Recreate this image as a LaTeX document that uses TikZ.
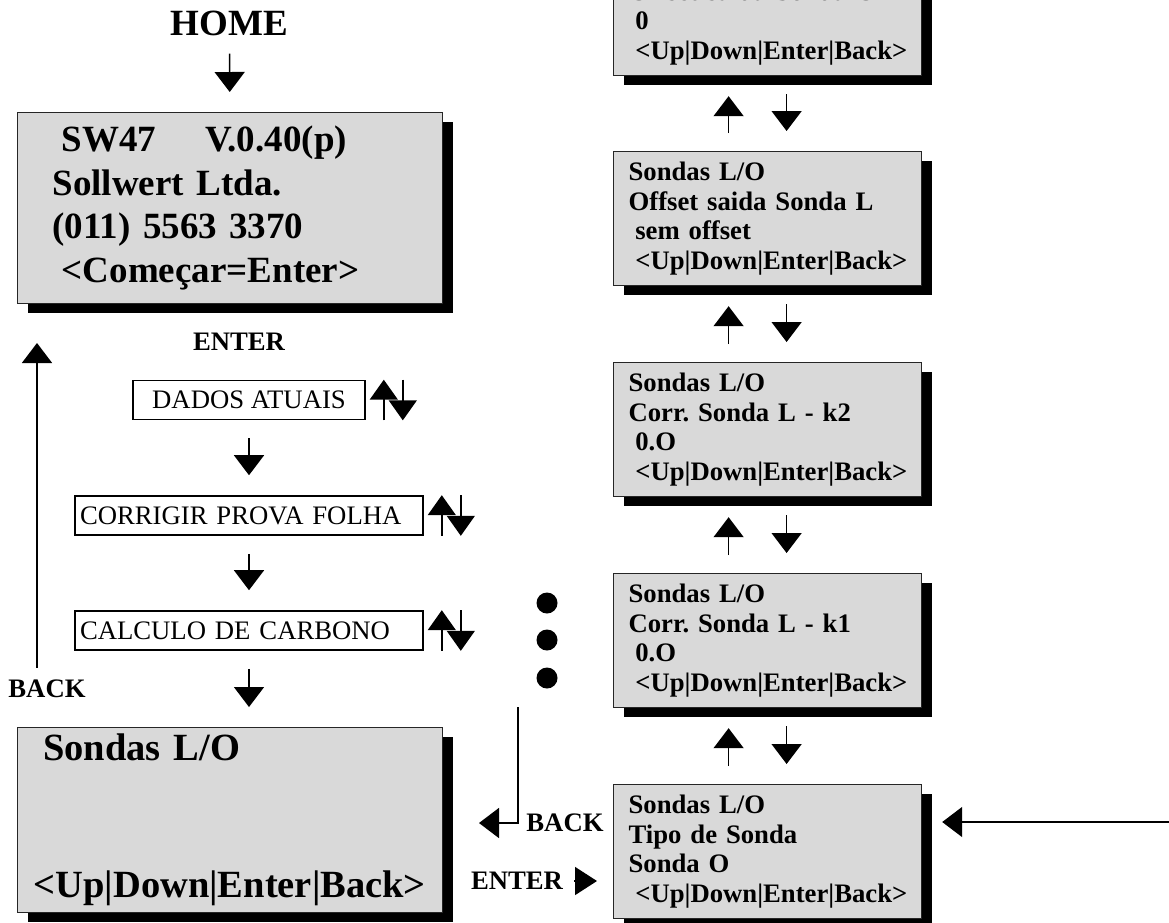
\documentclass[tikz,border=0pt]{standalone}
\usepackage{fontspec}
\setmainfont{Liberation Serif}
\usetikzlibrary{arrows.meta,shadows}
\definecolor{lcdgray}{HTML}{D9D9D9}
\newcommand{\bigtxt}{\fontsize{37}{43.5}\selectfont\bfseries}
\newcommand{\menutxt}{\fontsize{38.5}{42}\selectfont\bfseries}
\newcommand{\smalltxt}{\fontsize{26.7}{29.7}\selectfont}
\newcommand{\indsp}{\hspace*{.25em}}
\frenchspacing

\begin{document}
\begin{tikzpicture}[%
        x=1pt, y=-1pt,
        lcd/.style={draw=black!85, line width=1.2pt, fill=lcdgray, anchor=north west, align=left, inner ysep=0pt,
            drop shadow={shadow xshift=10pt, shadow yshift=-9pt, fill=black, opacity=1}},
        lcdbig/.style={lcd, inner xsep=35pt, text width=355pt, minimum width=425pt, minimum height=191pt, font=\bigtxt},
        lcdmenu/.style={lcd, inner xsep=16pt, text width=393pt, minimum width=425pt, minimum height=185pt, font=\menutxt},
        lcdsmall/.style={lcd, inner xsep=15pt, text width=278pt, minimum width=308pt, minimum height=134pt, font=\smalltxt\bfseries},
        menuitem/.style={draw, line width=1.6pt, inner sep=0pt, minimum height=39pt, font=\smalltxt},
        keylabel/.style={inner sep=0pt, font=\smalltxt\bfseries},
        flow/.style={line width=1.5pt, -{Triangle[width=30pt,length=20pt]}, shorten <=18pt, shorten >=20pt},
        updown/.style={line width=1.5pt, -{Triangle[width=28pt,length=20pt]}},
        mydot/.style={shape=circle, fill, inner sep=0pt, minimum size=21pt}
    ]
    \useasboundingbox (0,0) rectangle (1169,922);
    \clip (0,0) rectangle (1169,922);

    \node [keylabel, font=\bigtxt, anchor=base] (home) at (229.5,35) {HOME};
    \node [lcdbig] (welcome) at (17,112)
        {\indsp SW47\ \ \ \ V.0.40(p)\\Sollwert Ltda.\\(011) 5563 3370\\\indsp<Começar=Enter>};
    \draw [flow] (home) -- (welcome);

    \node [keylabel] (enterL) at (239,342) {ENTER};
    \node [menuitem, minimum width=232pt] (dados) at (249,400) {DADOS ATUAIS};
    \node [menuitem, text width=338pt, inner xsep=5pt, align=left] (corrigir) at (249,515.5) {CORRIGIR PROVA FOLHA};
    \node [menuitem, text width=338pt, inner xsep=5pt, align=left] (carbono) at (249,630.5) {CALCULO DE CARBONO};
    \node [lcdmenu] (sondas) at (17,727) {\indsp Sondas L/O\\[95pt]<Up|Down|Enter|Back>};

    \draw [flow] (dados) -- (corrigir);
    \draw [flow] (corrigir) -- (carbono);
    \draw [flow] (carbono.south) -- (carbono.south |- sondas.north);
    \foreach \item in {dados, corrigir, carbono} {
        \draw [updown] ([xshift=18pt]\item.south east) -- ([xshift=18pt]\item.north east);
        \draw [updown] ([xshift=37pt]\item.north east) -- ([xshift=37pt]\item.south east);
    }

    \node [keylabel] (backL) at (47,689) {BACK};
    \coordinate (backtip) at (37,343);
    \draw [flow, shorten <=12pt, shorten >=0pt] (backtip |- backL.north) -- (backtip);

    \node [lcdsmall] (tipo) at (613,784)
        {Sondas L/O\\Tipo de Sonda\\Sonda O\\\indsp<Up|Down|Enter|Back>};
    \node [lcdsmall] (kone) at (613,573)
        {Sondas L/O\\Corr. Sonda L - k1\\\indsp 0.O\\\indsp<Up|Down|Enter|Back>};
    \node [lcdsmall] (ktwo) at (613,362)
        {Sondas L/O\\Corr. Sonda L - k2\\\indsp 0.O\\\indsp<Up|Down|Enter|Back>};
    \node [lcdsmall] (offsetL) at (613,151)
        {Sondas L/O\\Offset saida Sonda L\\\indsp sem offset\\\indsp<Up|Down|Enter|Back>};
    \node [lcdsmall] (offsetO) at (613,-59)
        {Sondas L/O\\Offset saida Sonda O\\\indsp 0\\\indsp<Up|Down|Enter|Back>};

    \foreach \upper/\lower in {offsetO/offsetL, offsetL/ktwo, ktwo/kone, kone/tipo} {
        \draw [flow] ([xshift=-39pt]\lower.north) -- ([xshift=-39pt]\upper.south);
        \draw [flow] ([xshift=19pt]\upper.south) -- ([xshift=19pt]\lower.north);
    }

    \foreach \y [count=\i] in {603,640,678}
        \node [mydot] (dot\i) at (547,\y) {};

    \coordinate (elbow) at (518,707);
    \coordinate (backend) at (479,823);
    \node [keylabel] (backR) at (565,823) {BACK};
    \draw [flow, shorten <=0pt, shorten >=0pt] (elbow) |- (backend);

    \node [keylabel] (enterR) at (517,881) {ENTER};
    \draw [line width=1.5pt, -{Triangle[width=28pt,length=22pt]}, shorten <=11pt, shorten >=16pt]
        (enterR.east) -- (enterR.east -| tipo.west);

    \coordinate (rightin) at (1175,822);
    \draw [flow, shorten <=0pt] (rightin) -- (rightin -| tipo.east);
\end{tikzpicture}
\end{document}
